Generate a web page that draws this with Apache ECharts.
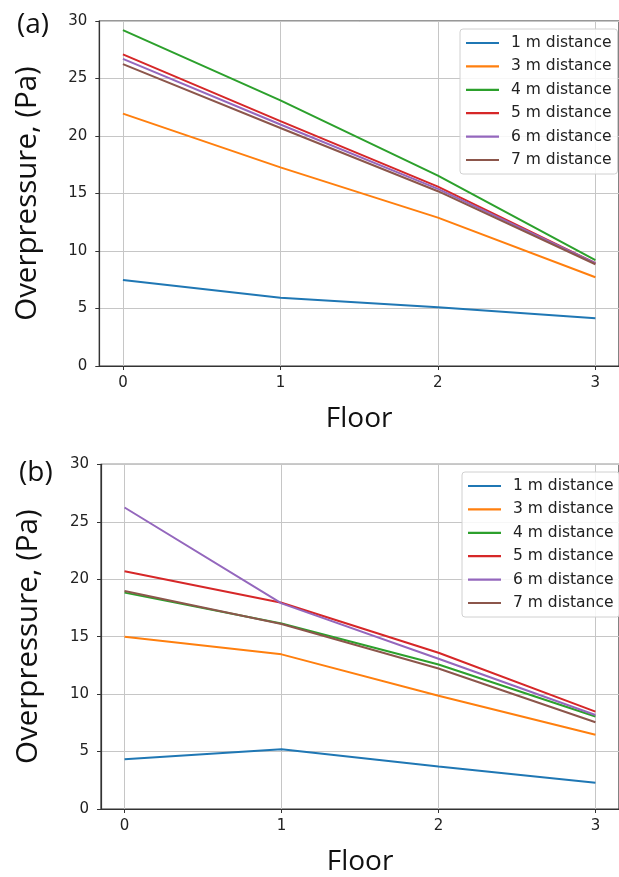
<!DOCTYPE html>
<html>
<head>
<meta charset="utf-8">
<script src="https://cdn.jsdelivr.net/npm/echarts@6/dist/echarts.min.js"></script>
<style>
  html, body { margin: 0; padding: 0; background: #fff; }
  #chart { width: 619px; height: 877px; }
</style>
</head>
<body>
<div id="chart"></div>
<script>
// floors on the x axis
var floors = [0, 1, 2, 3];
var names = ['1 m distance', '3 m distance', '4 m distance', '5 m distance', '6 m distance', '7 m distance'];
var colors = ['#1f77b4', '#ff7f0e', '#2ca02c', '#d62728', '#9467bd', '#8c564b'];

// (a)
var a1 = [7.48, 5.94, 5.1, 4.15];
var a3 = [21.95, 17.27, 12.9, 7.72];
var a4 = [29.2, 23.1, 16.55, 9.2];
var a5 = [27.1, 21.3, 15.6, 8.95];
var a6 = [26.7, 21.0, 15.4, 8.95];
var a7 = [26.25, 20.7, 15.2, 8.85];

// (b)
var b1 = [4.33, 5.2, 3.7, 2.29];
var b3 = [15.0, 13.46, 9.85, 6.47];
var b4 = [18.83, 16.15, 12.58, 8.05];
var b5 = [20.7, 17.95, 13.6, 8.47];
var b6 = [26.24, 17.9, 13.08, 8.18];
var b7 = [18.97, 16.1, 12.23, 7.55];

var panelA = [a1, a3, a4, a5, a6, a7];
var panelB = [b1, b3, b4, b5, b6, b7];

var chart = echarts.init(document.getElementById('chart'));

var tickFont = 'DejaVu Sans';
var titleFont = 'Open Sans';

function xAxis(idx) {
  return {
    type: 'value',
    gridIndex: idx,
    min: -0.15,
    max: 3.15,
    name: 'Floor',
    nameLocation: 'middle',
    nameGap: 39,
    nameTextStyle: { fontFamily: titleFont, fontSize: 28, color: '#111' },
    axisLine: { show: true, onZero: false, lineStyle: { color: '#333', width: 1.2 } },
    axisTick: { show: true, customValues: floors, length: 4, lineStyle: { color: '#333' } },
    axisLabel: { customValues: floors, margin: 10, fontFamily: tickFont, fontSize: 15, color: '#222' },
    splitLine: { show: true, lineStyle: { color: '#c6c6c6', width: 1 } }
  };
}

function yAxis(idx) {
  return {
    type: 'value',
    gridIndex: idx,
    min: 0,
    max: 30,
    interval: 5,
    name: 'Overpressure, (Pa)',
    nameLocation: 'middle',
    nameGap: 57,
    nameTextStyle: { fontFamily: titleFont, fontSize: 29.5, color: '#111' },
    axisLine: { show: true, onZero: false, lineStyle: { color: '#333', width: 1.2 } },
    axisTick: { show: true, length: 4, lineStyle: { color: '#333' } },
    axisLabel: { margin: 12, fontFamily: tickFont, fontSize: 15, color: '#222' },
    splitLine: { show: true, lineStyle: { color: '#c6c6c6', width: 1 } }
  };
}

function legend(top, left) {
  return {
    orient: 'vertical',
    top: top,
    left: left,
    data: names,
    icon: 'path://M0,0 L33,0 L33,2.2 L0,2.2 Z',
    itemWidth: 33,
    itemHeight: 14,
    itemGap: 7.4,
    padding: [6, 6, 6, 6],
    backgroundColor: 'rgba(255,255,255,0.85)',
    borderColor: '#d0d0d0',
    borderWidth: 1,
    borderRadius: 3,
    textStyle: { fontFamily: tickFont, fontSize: 15.5, color: '#222', padding: [0, 0, 0, 7] }
  };
}

var series = [];
[panelA, panelB].forEach(function (panel, g) {
  panel.forEach(function (vals, i) {
    series.push({
      name: names[i],
      type: 'line',
      xAxisIndex: g,
      yAxisIndex: g,
      symbol: 'none',
      lineStyle: { width: 2, color: colors[i] },
      itemStyle: { color: colors[i] },
      data: floors.map(function (f, k) { return [f, vals[k]]; })
    });
  });
});

chart.setOption({
  animation: false,
  color: colors,
  title: [
    { text: '(a)', left: 12, top: 6, textStyle: { fontFamily: titleFont, fontSize: 28, fontWeight: 'normal', color: '#111' } },
    { text: '(b)', left: 14, top: 454, textStyle: { fontFamily: titleFont, fontSize: 28, fontWeight: 'normal', color: '#111' } }
  ],
  grid: [
    { left: 99.3, top: 21, width: 527.2, height: 345, show: true, borderColor: '#333', borderWidth: 1.2 },
    { left: 101, top: 464.3, width: 527.4, height: 345.7, show: true, borderColor: '#333', borderWidth: 1.2 }
  ],
  legend: [legend(29, 460), legend(472, 462)],
  xAxis: [xAxis(0), xAxis(1)],
  yAxis: [yAxis(0), yAxis(1)],
  series: series
});
</script>
</body>
</html>
